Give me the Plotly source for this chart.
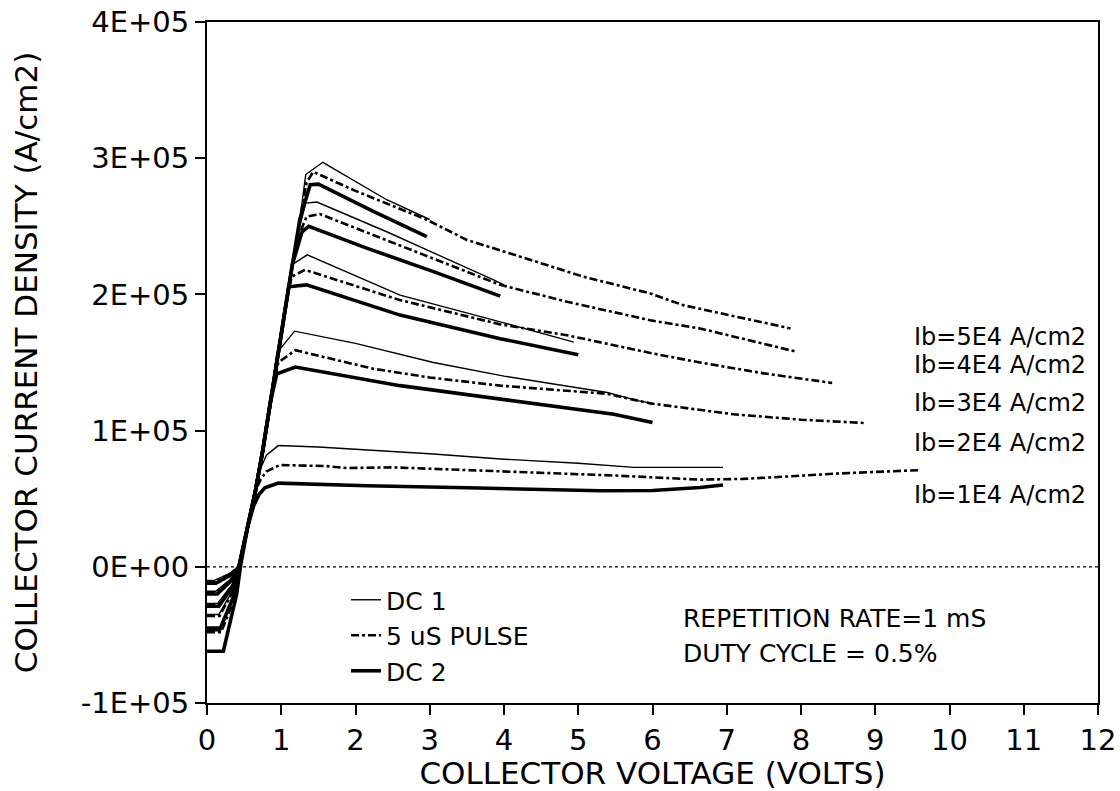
import plotly.graph_objects as go

# ---------------- data (collector voltage V, current density A/cm2) ----------------
v_dc1_1e4 = [0, 0.10, 0.30, 0.43, 0.55, 0.65, 0.72, 0.80, 0.96, 1.50, 2.50, 3.05, 4.00, 5.00, 5.75, 6.95]
j_dc1_1e4 = [-10000, -10000, -5000, 0, 30000, 55000, 72000, 82000, 89000, 88000, 85000, 82800, 79000, 76000, 73000, 73000]
v_dc1_2e4 = [0, 0.12, 0.32, 0.43, 0.55, 0.65, 0.75, 0.85, 0.94, 1.18, 2.00, 3.05, 4.00, 5.39, 5.80, 6.00]
j_dc1_2e4 = [-18000, -18000, -9000, 0, 30000, 55000, 85000, 120000, 157000, 173000, 164000, 150000, 140000, 128000, 122000, 120000]
v_dc1_3e4 = [0, 0.14, 0.34, 0.43, 0.55, 0.65, 0.75, 0.85, 0.95, 1.05, 1.14, 1.35, 2.60, 3.95, 4.94]
j_dc1_3e4 = [-27000, -27000, -13000, 0, 30000, 55000, 85000, 120000, 155000, 190000, 221600, 229000, 199500, 179800, 165000]
v_dc1_4e4 = [0, 0.16, 0.35, 0.43, 0.55, 0.65, 0.75, 0.85, 0.95, 1.05, 1.15, 1.25, 1.33, 1.48, 2.42, 3.86, 4.00]
j_dc1_4e4 = [-35000, -35000, -17000, 0, 30000, 55000, 85000, 120000, 155000, 190000, 222000, 250000, 267000, 267800, 246000, 210600, 207000]
v_dc1_5e4 = [0, 0.18, 0.37, 0.43, 0.55, 0.65, 0.75, 0.85, 0.95, 1.05, 1.15, 1.25, 1.33, 1.56, 2.42, 3.00]
j_dc1_5e4 = [-47000, -47000, -21000, 0, 30000, 55000, 85000, 120000, 155000, 190000, 222000, 255000, 288000, 297000, 269500, 255000]

v_pul_1e4 = [0, 0.10, 0.30, 0.43, 0.55, 0.65, 0.72, 0.80, 0.98, 1.60, 1.88, 2.50, 3.50, 4.40, 5.50, 6.64, 7.20, 7.81, 8.50, 9.60]
j_pul_1e4 = [-11000, -11000, -5500, 0, 30000, 55000, 64000, 70000, 74700, 74000, 72500, 73000, 71000, 69300, 67000, 64000, 64500, 66300, 68500, 71000]
v_pul_2e4 = [0, 0.12, 0.32, 0.43, 0.55, 0.65, 0.75, 0.85, 0.96, 1.19, 2.24, 3.00, 3.95, 5.39, 5.97, 7.09, 8.00, 8.85]
j_pul_2e4 = [-19000, -19000, -9500, 0, 30000, 55000, 85000, 120000, 150000, 159000, 145400, 139000, 133000, 127000, 120000, 112000, 108000, 105600]
v_pul_3e4 = [0, 0.15, 0.35, 0.43, 0.55, 0.65, 0.75, 0.85, 0.95, 1.05, 1.14, 1.32, 2.60, 3.95, 4.85, 5.97, 6.64, 7.50, 8.42]
j_pul_3e4 = [-28000, -28000, -13000, 0, 30000, 55000, 85000, 120000, 155000, 190000, 213000, 218000, 195800, 178000, 170000, 157000, 150000, 142000, 135000]
v_pul_4e4 = [0, 0.17, 0.36, 0.43, 0.55, 0.65, 0.75, 0.85, 0.95, 1.05, 1.15, 1.25, 1.34, 1.52, 2.83, 3.95, 4.85, 5.97, 6.64, 7.93]
j_pul_4e4 = [-36000, -36000, -17000, 0, 30000, 55000, 85000, 120000, 155000, 190000, 222000, 245000, 257000, 259000, 231000, 207000, 194600, 181000, 175000, 158000]
v_pul_5e4 = [0, 0.19, 0.38, 0.43, 0.55, 0.65, 0.75, 0.85, 0.95, 1.05, 1.15, 1.25, 1.34, 1.43, 2.00, 2.96, 3.50, 4.22, 5.07, 5.97, 6.42, 7.86]
j_pul_5e4 = [-48000, -48000, -22000, 0, 30000, 55000, 85000, 120000, 155000, 190000, 222000, 255000, 282000, 290000, 276000, 254800, 240000, 227700, 213000, 200700, 192000, 175000]

v_dc2_1e4 = [0, 0.12, 0.32, 0.43, 0.55, 0.63, 0.70, 0.78, 0.96, 1.50, 2.15, 3.50, 4.50, 5.30, 6.00, 6.64, 6.95]
j_dc2_1e4 = [-12000, -12000, -6000, 0, 30000, 45000, 53000, 58000, 61400, 60500, 59500, 58000, 57000, 55800, 56000, 58200, 60000]
v_dc2_2e4 = [0, 0.14, 0.33, 0.43, 0.55, 0.65, 0.75, 0.85, 0.94, 1.19, 2.60, 4.00, 5.48, 6.00]
j_dc2_2e4 = [-20000, -20000, -10000, 0, 30000, 55000, 85000, 120000, 141700, 146700, 133000, 123000, 112000, 106000]
v_dc2_3e4 = [0, 0.16, 0.35, 0.43, 0.55, 0.65, 0.75, 0.85, 0.95, 1.05, 1.10, 1.34, 2.60, 3.95, 5.00]
j_dc2_3e4 = [-29000, -29000, -14000, 0, 30000, 55000, 85000, 120000, 155000, 190000, 205600, 207000, 184800, 167500, 155700]
v_dc2_4e4 = [0, 0.18, 0.37, 0.43, 0.55, 0.65, 0.75, 0.85, 0.95, 1.05, 1.15, 1.28, 1.37, 2.15, 3.05, 3.95]
j_dc2_4e4 = [-45000, -45000, -20000, 0, 30000, 55000, 85000, 120000, 155000, 190000, 222000, 246000, 250000, 234000, 216700, 198700]
v_dc2_5e4 = [0, 0.22, 0.40, 0.45, 0.55, 0.65, 0.75, 0.85, 0.95, 1.05, 1.15, 1.25, 1.39, 1.50, 2.24, 2.96]
j_dc2_5e4 = [-62000, -62000, -20000, 0, 30000, 55000, 85000, 120000, 155000, 190000, 222000, 255000, 280600, 281000, 261000, 242500]

series_names = ["DC 1", "5 uS PULSE", "DC 2"]

y_tickvals = [-100000, 0, 100000, 200000, 300000, 400000]
y_ticktext = ["-1E+05", "0E+00", "1E+05", "2E+05", "3E+05", "4E+05"]
x_tickvals = list(range(0, 13))

ib_labels = ["Ib=5E4 A/cm2", "Ib=4E4 A/cm2", "Ib=3E4 A/cm2", "Ib=2E4 A/cm2", "Ib=1E4 A/cm2"]
ib_label_j = [169000, 148000, 120000, 91000, 53000]
ib_label_v = 11.86

note_lines = ["REPETITION RATE=1 mS", "DUTY CYCLE = 0.5%"]
note_j = [-37600, -63400]
note_v = 6.39

# ---------------- figure ----------------
FONT = "DejaVu Sans"
fig = go.Figure()

groups = [
    (series_names[0], dict(color="black", width=1.4),
     [(v_dc1_1e4, j_dc1_1e4), (v_dc1_2e4, j_dc1_2e4), (v_dc1_3e4, j_dc1_3e4),
      (v_dc1_4e4, j_dc1_4e4), (v_dc1_5e4, j_dc1_5e4)]),
    (series_names[1], dict(color="black", width=2.6, dash="8px,3px,3px,3px"),
     [(v_pul_1e4, j_pul_1e4), (v_pul_2e4, j_pul_2e4), (v_pul_3e4, j_pul_3e4),
      (v_pul_4e4, j_pul_4e4), (v_pul_5e4, j_pul_5e4)]),
    (series_names[2], dict(color="black", width=3.6),
     [(v_dc2_1e4, j_dc2_1e4), (v_dc2_2e4, j_dc2_2e4), (v_dc2_3e4, j_dc2_3e4),
      (v_dc2_4e4, j_dc2_4e4), (v_dc2_5e4, j_dc2_5e4)]),
]

for name, line, curves in groups:
    for i, (vx, jy) in enumerate(curves):
        fig.add_trace(go.Scatter(
            x=vx, y=jy, mode="lines", name=name, legendgroup=name,
            showlegend=(i == 0), line=line, hoverinfo="skip"))

fig.add_hline(y=0, line=dict(color="black", width=1.2, dash="dot"), layer="below")

for txt, yj in zip(ib_labels, ib_label_j):
    fig.add_annotation(x=ib_label_v, y=yj, xref="x", yref="y", text=txt,
                       showarrow=False, xanchor="right", yanchor="middle",
                       font=dict(family=FONT, size=24, color="black"))

for txt, yj in zip(note_lines, note_j):
    fig.add_annotation(x=note_v, y=yj, xref="x", yref="y", text=txt,
                       showarrow=False, xanchor="left", yanchor="middle",
                       font=dict(family=FONT, size=25, color="black"))

axis_common = dict(showline=True, linecolor="black", linewidth=2, mirror=True,
                   ticks="outside", ticklen=10, tickwidth=1.5, tickcolor="black",
                   showgrid=False, zeroline=False,
                   tickfont=dict(family=FONT, size=29, color="black"))

fig.update_xaxes(range=[0, 12], tickvals=x_tickvals,
                 title=dict(text="COLLECTOR VOLTAGE (VOLTS)", standoff=10,
                            font=dict(family=FONT, size=31, color="black")),
                 **axis_common)
fig.update_yaxes(range=[-100000, 400000], tickvals=y_tickvals, ticktext=y_ticktext,
                 title=dict(text="COLLECTOR CURRENT DENSITY (A/cm2)", standoff=34,
                            font=dict(family=FONT, size=31, color="black")),
                 **axis_common)

fig.update_layout(
    width=1120, height=791,
    margin=dict(l=207, r=22, t=22, b=88, autoexpand=False),
    paper_bgcolor="white", plot_bgcolor="white",
    font=dict(family=FONT, color="black"),
    legend=dict(x=0.156, y=0.185, xanchor="left", yanchor="top",
                bgcolor="rgba(0,0,0,0)", borderwidth=0,
                font=dict(family=FONT, size=25, color="black"),
                traceorder="grouped", tracegroupgap=0, itemwidth=30),
)

fig.write_html("out.html")
